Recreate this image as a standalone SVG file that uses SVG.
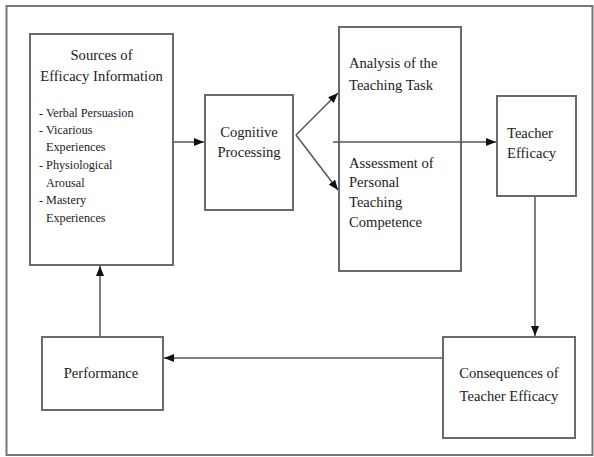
<svg xmlns="http://www.w3.org/2000/svg" width="594" height="457" viewBox="0 0 594 457">
<defs>
<style>
.box{fill:#fff;stroke:#6a6a6a;stroke-width:2}
.t{font-family:"Liberation Serif","Times New Roman",serif;font-size:14.6px;fill:#222}
.s{font-family:"Liberation Serif","Times New Roman",serif;font-size:12.2px;fill:#222}
.c{text-anchor:middle}
.ln{fill:none;stroke:#555;stroke-width:1.5}
</style>
<marker id="ah" viewBox="0 0 10 8" refX="10" refY="4" markerWidth="10" markerHeight="8" markerUnits="userSpaceOnUse" orient="auto">
<path d="M0,0 L10,4 L0,8 z" fill="#111"/>
</marker>
</defs>
<rect x="0" y="0" width="594" height="457" fill="#fff"/>
<rect x="6.5" y="6" width="586" height="449" fill="none" stroke="#777" stroke-width="2"/>

<g id="sources">
<rect class="box" x="30" y="34" width="143" height="231"/>
<text class="t c" x="101.5" y="60">Sources of</text>
<text class="t c" x="101.5" y="81">Efficacy Information</text>
<text class="s" x="39" y="117">- Verbal Persuasion</text>
<text class="s" x="39" y="134">- Vicarious</text>
<text class="s" x="46" y="151">Experiences</text>
<text class="s" x="39" y="169">- Physiological</text>
<text class="s" x="46" y="187">Arousal</text>
<text class="s" x="39" y="204">- Mastery</text>
<text class="s" x="46" y="222">Experiences</text>
</g>

<g id="cognitive">
<rect class="box" x="205" y="95" width="88" height="115"/>
<text class="t c" x="249" y="137">Cognitive</text>
<text class="t c" x="249" y="157">Processing</text>
</g>

<g id="analysis">
<rect class="box" x="339" y="27" width="122" height="244"/>
<text class="t" x="349" y="68">Analysis of the</text>
<text class="t" x="349" y="90">Teaching Task</text>
<text class="t" x="349" y="168">Assessment of</text>
<text class="t" x="349" y="187">Personal</text>
<text class="t" x="349" y="207">Teaching</text>
<text class="t" x="349" y="227">Competence</text>
</g>

<g id="teacher-efficacy">
<rect class="box" x="497" y="96" width="79" height="100"/>
<text class="t" x="507" y="138">Teacher</text>
<text class="t" x="507" y="158">Efficacy</text>
</g>

<g id="consequences">
<rect class="box" x="443" y="337" width="132" height="101"/>
<text class="t c" x="509" y="378">Consequences of</text>
<text class="t c" x="509" y="401">Teacher Efficacy</text>
</g>

<g id="performance">
<rect class="box" x="42" y="337" width="121" height="73"/>
<text class="t c" x="101" y="378">Performance</text>
</g>

<g id="connectors">
<line class="ln" x1="173" y1="142" x2="204" y2="142" marker-end="url(#ah)"/>
<line class="ln" x1="296" y1="135" x2="338" y2="93" marker-end="url(#ah)"/>
<line class="ln" x1="296" y1="135" x2="338" y2="190" marker-end="url(#ah)"/>
<line class="ln" x1="333" y1="142" x2="496" y2="142" marker-end="url(#ah)"/>
<line class="ln" x1="535" y1="197" x2="535" y2="336" marker-end="url(#ah)"/>
<line class="ln" x1="442" y1="358" x2="164" y2="358" marker-end="url(#ah)"/>
<line class="ln" x1="100" y1="336" x2="100" y2="266" marker-end="url(#ah)"/>
</g>
</svg>
